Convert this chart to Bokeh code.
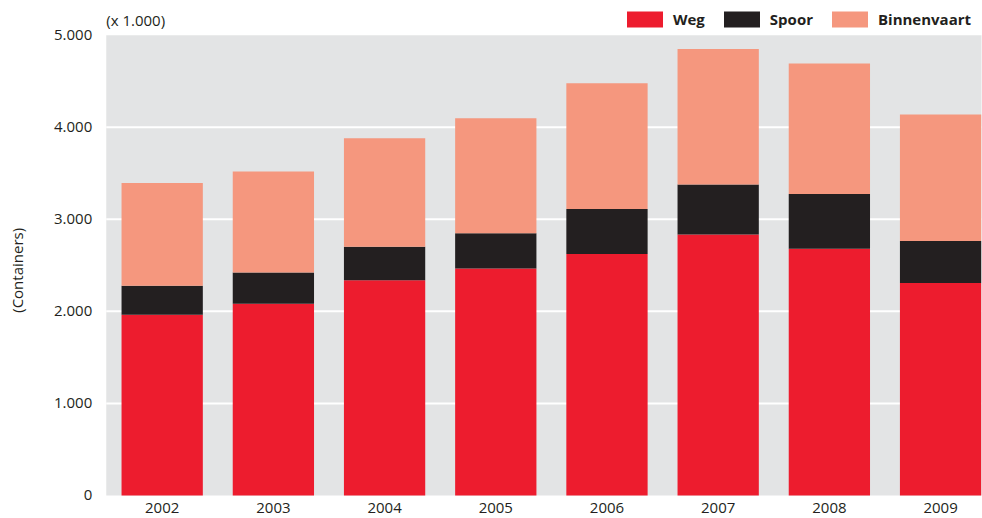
import math
from bokeh.plotting import figure
from bokeh.models import (ColumnDataSource, Range1d, Legend, LegendItem, Label, BoxAnnotation)
from bokeh.core.properties import value
from bokeh.embed import file_html
from bokeh.resources import INLINE

years = ["2002", "2003", "2004", "2005", "2006", "2007", "2008", "2009"]
weg = [1964, 2084, 2337, 2467, 2624, 2834, 2681, 2308]
spoor = [315, 337, 365, 381, 489, 543, 594, 457]
binnenvaart = [1115, 1098, 1178, 1250, 1365, 1474, 1417, 1373]
series = ["Weg", "Spoor", "Binnenvaart"]
colors = ["#ED1C2E", "#231F20", "#F5977E"]
yticks = [0, 1000, 2000, 3000, 4000, 5000]
ytick_labels = ["0", "1.000", "2.000", "3.000", "4.000", "5.000"]
unit_label = "(x 1.000)"
y_title = "(Containers)"

FONT = "Open Sans"
TXT = "#231F20"
GRAY = "#E3E4E5"

xs = list(range(len(years)))
# plotting-area limits (layout, in data units)
ax_left = xs[0] - 0.503
ax_right = xs[-1] + 0.368
y_top = yticks[-1]

source = ColumnDataSource(dict(x=xs, Weg=weg, Spoor=spoor, Binnenvaart=binnenvaart))

p = figure(width=982, height=518, output_backend="svg", toolbar_location=None,
           x_range=Range1d(xs[0] - 1.454, xs[-1] + 0.377),
           y_range=Range1d(-250, 5377),
           min_border_left=0, min_border_right=0, min_border_top=0, min_border_bottom=0)
p.xaxis.visible = False
p.yaxis.visible = False
p.grid.visible = False
p.outline_line_color = None
p.background_fill_color = "white"

# grey plotting area
p.add_layout(BoxAnnotation(left=ax_left, right=ax_right, bottom=yticks[0], top=y_top,
                           fill_color=GRAY, fill_alpha=1.0, line_color=None, level="underlay"))
# white gridlines
grid_ticks = yticks[1:-1]
p.segment(x0=[ax_left] * len(grid_ticks), x1=[ax_right] * len(grid_ticks),
          y0=grid_ticks, y1=grid_ticks, line_color="white", line_width=2)

renderers = p.vbar_stack(series, x="x", width=0.731, source=source,
                         color=colors, line_color=None)

# x tick labels
p.text(x=xs, y=[0] * len(xs), text=years, text_font=value(FONT), text_font_size="15px",
       text_color=TXT, text_align="center", text_baseline="top", y_offset=8)
# y tick labels
p.text(x=[ax_left] * len(yticks), y=yticks, text=ytick_labels, text_font=value(FONT),
       text_font_size="15px", text_color=TXT, text_align="right", text_baseline="middle",
       x_offset=-14)

# y title
p.add_layout(Label(x=ax_left, y=(yticks[0] + yticks[-1]) / 2, x_offset=-89, y_offset=-5,
                   angle=math.pi / 2, text=y_title, text_font=FONT, text_font_size="15px",
                   text_color=TXT, text_align="center", text_baseline="middle"))
# unit label
p.add_layout(Label(x=ax_left, y=y_top, x_offset=0, y_offset=15, text=unit_label,
                   text_font=FONT, text_font_size="15px", text_color=TXT,
                   text_baseline="middle", text_align="left"))

legend = Legend(items=[LegendItem(label=s, renderers=[r]) for s, r in zip(series, renderers)],
                orientation="horizontal", location=(622, 489),
                glyph_width=45, glyph_height=20, label_standoff=6, spacing=14,
                padding=0, margin=0, border_line_color=None, background_fill_alpha=0,
                label_text_font=FONT, label_text_font_size="15px",
                label_text_font_style="bold", label_text_color=TXT,
                label_height=20)
p.add_layout(legend, "center")

open("out.html", "w").write(file_html(p, INLINE))
